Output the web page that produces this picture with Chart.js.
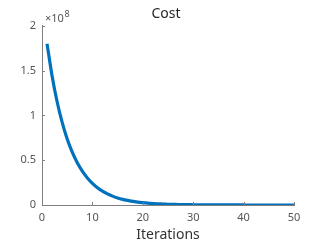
<!DOCTYPE html>
<html>
<head>
<meta charset="utf-8">
<script src="https://cdn.jsdelivr.net/npm/chart.js@4"></script>
<style>
  html, body { margin: 0; padding: 0; background: #fff; }
  #wrap { width: 332px; height: 244px; }
</style>
</head>
<body>
<div id="wrap"><canvas id="cost-chart" width="332" height="244"></canvas></div>
<script>
const iterations = [
  1, 2, 3, 4, 5, 6, 7, 8, 9, 10,
  11, 12, 13, 14, 15, 16, 17, 18, 19, 20,
  21, 22, 23, 24, 25, 26, 27, 28, 29, 30,
  31, 32, 33, 34, 35, 36, 37, 38, 39, 40,
  41, 42, 43, 44, 45, 46, 47, 48, 49, 50,
];
// cost in units of 1e8
const costValues = [
  1.80, 1.44, 1.152, 0.922, 0.737, 0.590, 0.472, 0.377, 0.302, 0.242,
  0.193, 0.155, 0.124, 0.099, 0.079, 0.063, 0.051, 0.041, 0.032, 0.026,
  0.021, 0.017, 0.013, 0.011, 0.0085, 0.0068, 0.0054, 0.0043, 0.0035, 0.0028,
  0.0022, 0.0018, 0.0014, 0.0011, 0.0009, 0.0007, 0.0006, 0.0005, 0.0004, 0.0003,
  0.00025, 0.0002, 0.00016, 0.00013, 0.0001, 0.00008, 0.00007, 0.00005, 0.00004, 0.00003,
];
const xTicks = [0, 10, 20, 30, 40, 50];
const yTicks = [0, 0.5, 1, 1.5, 2];
const exponentText = '8';

const FONT = '"Noto Sans", "Open Sans", sans-serif';
const AXIS_COLOR = '#7f7f7f';
const TICK_TEXT = '#555555';

// matlab-style inward ticks + the x10^8 multiplier
const matlabAxes = {
  id: 'matlabAxes',
  afterDraw(chart) {
    const { ctx, chartArea, scales } = chart;
    ctx.save();
    ctx.strokeStyle = AXIS_COLOR;
    ctx.lineWidth = 1;
    ctx.beginPath();
    xTicks.forEach((v) => {
      const px = Math.round(scales.x.getPixelForValue(v)) + 0.5;
      ctx.moveTo(px, chartArea.bottom);
      ctx.lineTo(px, chartArea.bottom - 3);
    });
    yTicks.forEach((v) => {
      const py = Math.round(scales.y.getPixelForValue(v)) + 0.5;
      ctx.moveTo(chartArea.left, py);
      ctx.lineTo(chartArea.left + 3, py);
    });
    ctx.stroke();

    ctx.fillStyle = TICK_TEXT;
    ctx.textBaseline = 'alphabetic';
    ctx.textAlign = 'left';
    ctx.font = '11px ' + FONT;
    const x0 = chartArea.left + 3;
    const y0 = chartArea.top - 4;
    ctx.fillText('\u00d710', x0, y0);
    const w = ctx.measureText('\u00d710').width;
    ctx.font = '9px ' + FONT;
    ctx.fillText(exponentText, x0 + w + 0.5, y0 - 5);
    ctx.restore();
  },
};

new Chart(document.getElementById('cost-chart'), {
  type: 'line',
  data: {
    labels: iterations,
    datasets: [
      {
        label: 'Cost',
        data: iterations.map((it, i) => ({ x: it, y: costValues[i] })),
        borderColor: '#0072BD',
        borderWidth: 3.2,
        pointRadius: 0,
        tension: 0.3,
        fill: false,
      },
    ],
  },
  options: {
    responsive: false,
    animation: false,
    layout: { padding: 0 },
    plugins: {
      legend: { display: false },
      tooltip: { enabled: false },
      title: {
        display: true,
        text: 'Cost',
        color: '#262626',
        font: { family: FONT, size: 14, weight: 'normal' },
        padding: { top: 6, bottom: 3 },
      },
    },
    scales: {
      x: {
        type: 'linear',
        min: 0,
        max: 50,
        afterBuildTicks: (scale) => { scale.ticks = xTicks.map((v) => ({ value: v })); },
        afterFit: (scale) => { scale.height = 39; },
        grid: { display: false, drawTicks: false },
        border: { display: true, color: AXIS_COLOR, width: 1 },
        ticks: {
          color: TICK_TEXT,
          padding: 6,
          maxRotation: 0,
          font: { family: FONT, size: 11 },
          callback: (v) => String(v),
        },
        title: {
          display: true,
          text: 'Iterations',
          color: '#333333',
          font: { family: FONT, size: 14 },
          padding: { top: 0, bottom: 1 },
        },
      },
      y: {
        type: 'linear',
        min: 0,
        max: 2,
        afterBuildTicks: (scale) => { scale.ticks = yTicks.map((v) => ({ value: v })); },
        afterFit: (scale) => { scale.width = 42; },
        grid: { display: false, drawTicks: false },
        border: { display: true, color: AXIS_COLOR, width: 1 },
        ticks: {
          color: TICK_TEXT,
          padding: 6,
          font: { family: FONT, size: 11 },
          callback: (v) => String(v),
        },
      },
      // empty right-hand axis, only keeps the right margin
      yRight: {
        type: 'linear',
        position: 'right',
        min: 0,
        max: 2,
        afterFit: (scale) => { scale.width = 38; },
        grid: { display: false, drawTicks: false },
        border: { display: false },
        ticks: { display: false },
      },
    },
  },
  plugins: [matlabAxes],
});
</script>
</body>
</html>
